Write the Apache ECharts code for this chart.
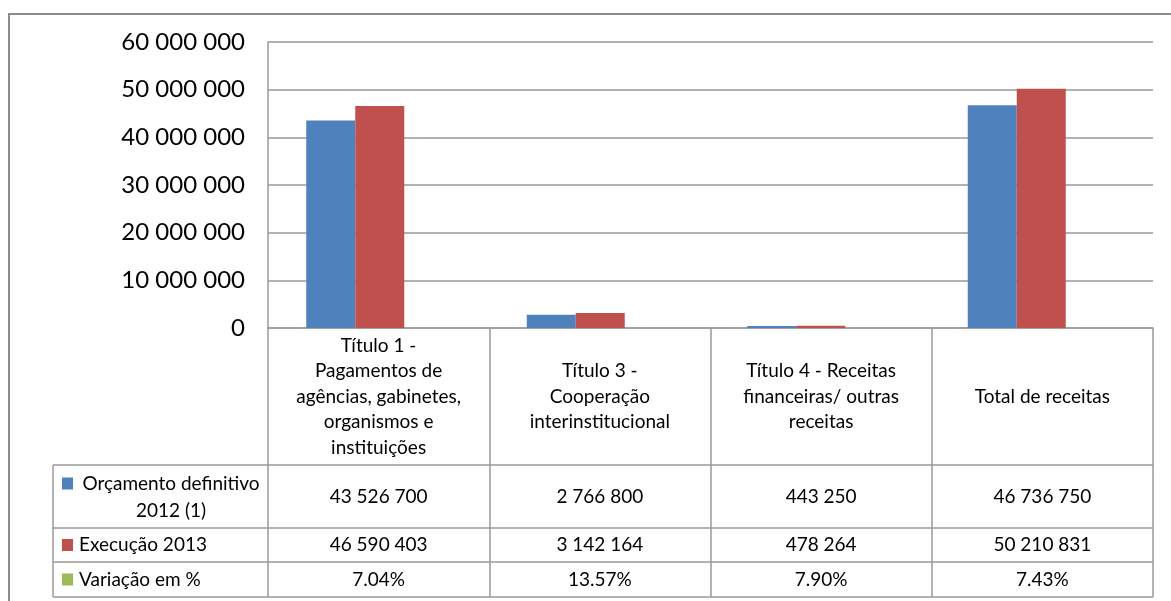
<!DOCTYPE html>
<html>
<head>
<meta charset="utf-8">
<script src="https://cdn.jsdelivr.net/npm/echarts@6.0.0/dist/echarts.min.js"></script>
<style>
  html, body { margin: 0; padding: 0; background: #fff; }
  #chart { width: 1171px; height: 601px; }
</style>
</head>
<body>
<div id="chart"></div>
<script>
// dados
const categories = [
  'Título 1 -\nPagamentos de\nagências, gabinetes,\norganismos e\ninstituições',
  'Título 3 -\nCooperação\ninterinstitucional',
  'Título 4 - Receitas\nfinanceiras/ outras\nreceitas',
  'Total de receitas'
];
const orcamento = [43526700, 2766800, 443250, 46736750];
const execucao = [46590403, 3142164, 478264, 50210831];
const variacao = ['7.04%', '13.57%', '7.90%', '7.43%'];
const seriesNames = ['Orçamento definitivo\n2012 (1)', 'Execução 2013', 'Variação em %'];
const yMin = 0, yMax = 60000000, yStep = 10000000;

const colors = ['#4F81BD', '#C0504D', '#9BBB59'];
const lineColor = '#9a9a9a';
const font = 'Lato, "Open Sans", sans-serif';

// layout (px)
const W = 1171, H = 601;
const plotLeft = 268, plotRight = 1153, plotTop = 42, axisY = 328;
const barsLeft = 245, barsRight = 1127;
const tableLeft = 53;
const rowLines = [465, 528, 562, 597];   // bottom edges of header and the 3 rows

function fmt(n) {
  return String(n).replace(/\B(?=(\d{3})+(?!\d))/g, ' ');
}
function rowMid(i) { // i = 0..2 data rows
  return (rowLines[i] + rowLines[i + 1]) / 2;
}

const chart = echarts.init(document.getElementById('chart'));

function rowAxis(data, mid) {
  return {
    type: 'category', gridIndex: 0, position: 'bottom', data: data,
    axisLine: { show: false }, axisTick: { show: false },
    axisLabel: {
      interval: 0, margin: mid - axisY, verticalAlign: 'middle',
      fontFamily: font, fontSize: 19, color: '#000'
    }
  };
}

const graphics = [
  // moldura exterior
  { type: 'rect', shape: { x: 9, y: 14, width: W + 20, height: H + 20 },
    style: { fill: null, stroke: '#8c8c8c', lineWidth: 2 }, silent: true },
  // linha vertical esquerda da coluna da legenda
  { type: 'line', shape: { x1: tableLeft, y1: rowLines[0], x2: tableLeft, y2: rowLines[3] },
    style: { stroke: lineColor, lineWidth: 1.5 } }
];
rowLines.forEach(function (y) {
  graphics.push({ type: 'line', shape: { x1: tableLeft, y1: y, x2: plotRight, y2: y },
    style: { stroke: lineColor, lineWidth: 1.5 } });
});
// legenda em forma de tabela
seriesNames.forEach(function (name, i) {
  const mid = rowMid(i);
  const multi = name.indexOf('\n') >= 0;
  graphics.push({
    type: 'rect', shape: { x: 62, y: multi ? mid - 19 : mid - 6, width: 11, height: 12 },
    style: { fill: colors[i] }
  });
  graphics.push({
    type: 'text', x: multi ? 171 : 79, y: mid + (multi ? 1 : 0),
    style: {
      text: name, font: '19px ' + font, fill: '#000', lineHeight: 27,
      textAlign: multi ? 'center' : 'left', textVerticalAlign: 'middle'
    }
  });
});

const option = {
  animation: false,
  backgroundColor: '#fff',
  grid: [
    { left: plotLeft, right: W - plotRight, top: plotTop, bottom: H - axisY },
    { left: barsLeft, right: W - barsRight, top: plotTop, bottom: H - axisY }
  ],
  xAxis: [
    {
      type: 'category', gridIndex: 0, position: 'bottom', data: categories,
      axisLine: { show: true, lineStyle: { color: lineColor, width: 1.5 } },
      axisTick: { show: true, length: rowLines[3] - axisY, lineStyle: { color: lineColor, width: 1.5 } },
      axisLabel: {
        interval: 0, margin: (rowLines[0] - axisY) / 2, verticalAlign: 'middle',
        fontFamily: font, fontSize: 19, lineHeight: 25.5, color: '#000', align: 'center'
      }
    },
    rowAxis(orcamento.map(fmt), rowMid(0)),
    rowAxis(execucao.map(fmt), rowMid(1)),
    rowAxis(variacao, rowMid(2)),
    {
      type: 'category', gridIndex: 1, data: categories, show: false
    }
  ],
  yAxis: [
    {
      type: 'value', gridIndex: 0, min: yMin, max: yMax, interval: yStep,
      axisLine: { show: true, lineStyle: { color: lineColor, width: 1.5 } },
      axisTick: { show: false },
      axisLabel: { margin: 23, fontFamily: font, fontSize: 24, color: '#000', formatter: fmt },
      splitLine: { show: true, lineStyle: { color: lineColor, width: 1.5 } }
    },
    {
      type: 'value', gridIndex: 1, min: yMin, max: yMax, interval: yStep, show: false,
      splitLine: { show: false }
    }
  ],
  graphic: graphics,
  series: [
    {
      name: seriesNames[0], type: 'bar', xAxisIndex: 4, yAxisIndex: 1,
      data: orcamento, barWidth: 49, barGap: '0%', itemStyle: { color: colors[0] }
    },
    {
      name: seriesNames[1], type: 'bar', xAxisIndex: 4, yAxisIndex: 1,
      data: execucao, barWidth: 49, barGap: '0%', itemStyle: { color: colors[1] }
    }
  ]
};
chart.setOption(option);
</script>
</body>
</html>
